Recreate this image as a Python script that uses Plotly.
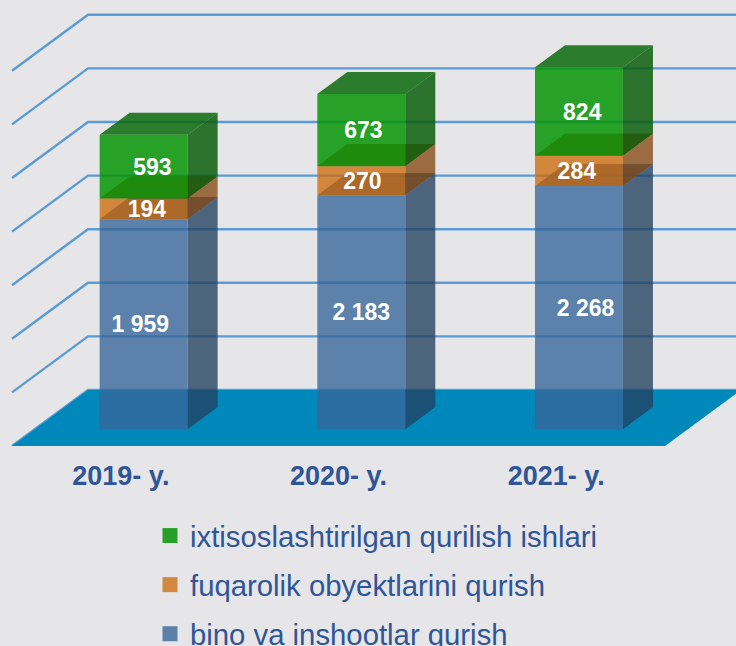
import plotly.graph_objects as go

categories = ["2019- y.", "2020- y.", "2021- y."]
series_names = ["bino va inshootlar qurish", "fuqarolik obyektlarini qurish", "ixtisoslashtirilgan qurilish ishlari"]
bino = [1959, 2183, 2268]
fuqarolik = [194, 270, 284]
ixtisos = [593, 673, 824]
grid_values = [0, 500, 1000, 1500, 2000, 2500, 3000, 3500]

# label nudges (category units), as in the source chart
label_shift = [[-0.015, 0.0, 0.03], [0.015, 0.005, -0.01], [0.04, 0.01, 0.015]]
LABEL_DROP = 22  # value units

front_c = ["rgba(54,101,153,0.79)", "rgba(205,109,15,0.79)", "rgba(6,148,6,0.85)"]
side_c = ["rgba(34,66,96,0.79)", "rgba(135,75,20,0.79)", "rgba(10,94,12,0.85)"]
top_c = ["rgba(0,55,110,0.79)", "rgba(150,50,0,0.79)", "rgba(9,106,12,0.85)"]
legend_c = ["#5B80AA", "#D2883F", "#28A028"]
TEXT = "#2F5597"
BG = "#E6E6E8"
FONT = "Liberation Sans"

PX_PER_U = 217.67
PX_PER_V = 0.1072
DEPTH_U = 76 / PX_PER_U
DEPTH_V = 56 / PX_PER_V
HALF = 0.202
D0, D1 = 0.30, 0.695
N = len(categories)


def proj(u, v, d):
    return u + d * DEPTH_U, v + d * DEPTH_V


def poly(points):
    xs, ys = [], []
    for u, v, d in points:
        x, y = proj(u, v, d)
        xs.append(x)
        ys.append(y)
    x, y = proj(*points[0])
    return xs + [x, None], ys + [y, None]


def add_poly_trace(fig, polys, color):
    xs, ys = [], []
    for p in polys:
        a, b = poly(p)
        xs += a
        ys += b
    fig.add_trace(go.Scatter(x=xs, y=ys, mode="lines", fill="toself", fillcolor=color,
                             line=dict(width=0, color=color), hoverinfo="skip", showlegend=False))


fig = go.Figure()

# back wall and side wall gridlines
gx, gy = [], []
for v in grid_values:
    for u, d in [(0, 0), (0, 1), (N, 1)]:
        x, y = proj(u, v, d)
        gx.append(x)
        gy.append(y)
    gx.append(None)
    gy.append(None)
fig.add_trace(go.Scatter(x=gx, y=gy, mode="lines", line=dict(color="#5B9BD5", width=2.4),
                         hoverinfo="skip", showlegend=False))

# floor
add_poly_trace(fig, [[(0, 0, 0), (N, 0, 0), (N, 0, 1), (0, 0, 1)]], "#0088BB")

# bar faces
stack = [0] * N
lab_x, lab_y, lab_t = [], [], []
for s, vals in enumerate([bino, fuqarolik, ixtisos]):
    tops, sides, fronts = [], [], []
    for i, val in enumerate(vals):
        lo, hi = stack[i], stack[i] + val
        l, r = i + 0.5 - HALF, i + 0.5 + HALF
        tops.append([(l, hi, D0), (r, hi, D0), (r, hi, D1), (l, hi, D1)])
        sides.append([(r, lo, D0), (r, lo, D1), (r, hi, D1), (r, hi, D0)])
        fronts.append([(l, lo, D0), (r, lo, D0), (r, hi, D0), (l, hi, D0)])
        x, y = proj(i + 0.5 + label_shift[s][i], (lo + hi) / 2 - LABEL_DROP, D0)
        lab_x.append(x)
        lab_y.append(y)
        lab_t.append(f"{val:,}".replace(",", " "))
        stack[i] = hi
    add_poly_trace(fig, tops, top_c[s])
    add_poly_trace(fig, sides, side_c[s])
    add_poly_trace(fig, fronts, front_c[s])

fig.add_trace(go.Scatter(x=lab_x, y=lab_y, text=lab_t, mode="text", textposition="middle center",
                         textfont=dict(family=FONT, size=23, color="white", weight="bold"),
                         hoverinfo="skip", showlegend=False))

# legend entries, top item first
for s in reversed(range(len(series_names))):
    name = series_names[s]
    fig.add_trace(go.Scatter(x=[None], y=[None], mode="markers", name=name, legendgroup=name,
                             marker=dict(symbol="square", size=15, color=legend_c[s])))

fig.update_layout(
    width=736, height=646, autosize=False,
    margin=dict(l=0, r=0, t=0, b=200, autoexpand=False),
    paper_bgcolor=BG, plot_bgcolor=BG,
    font=dict(family=FONT),
    xaxis=dict(range=[-12 / PX_PER_U, (736 - 12) / PX_PER_U], tickmode="array",
               tickvals=[i + 0.5 for i in range(N)], ticktext=categories,
               ticks="outside", ticklen=6, tickcolor="rgba(0,0,0,0)",
               tickfont=dict(family=FONT, size=27, color=TEXT, weight="bold"),
               showgrid=False, zeroline=False, showline=False, fixedrange=True),
    yaxis=dict(range=[0, 446 / PX_PER_V], visible=False, fixedrange=True),
    legend=dict(x=150 / 736, xanchor="left", y=(446 - 510) / 446, yanchor="top", traceorder="grouped",
                tracegroupgap=8, bgcolor="rgba(0,0,0,0)",
                font=dict(family=FONT, size=29.3, color=TEXT)),
)
fig.write_html("out.html", config={"displayModeBar": False},
               post_script="document.body.style.margin='0';document.body.style.overflow='hidden';document.documentElement.style.background='#E6E6E8';")
